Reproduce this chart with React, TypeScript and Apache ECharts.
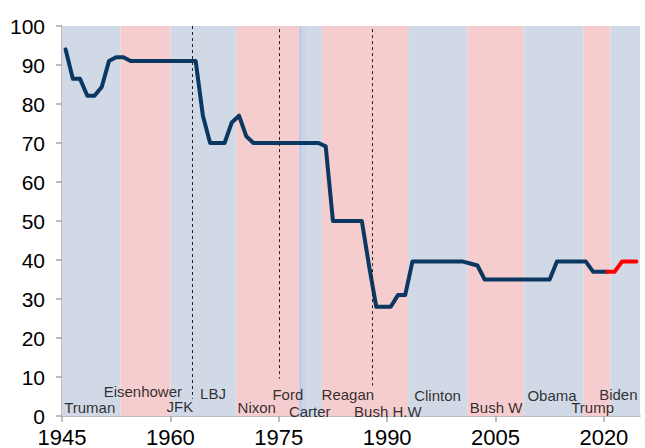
import React, { useEffect, useRef } from 'react';
import * as echarts from 'echarts';

const START_YEAR = 1945;

// Top marginal rate, one value per year (drawn at the middle of each year's slot)
const rateYears = [
  1945, 1946, 1947, 1948, 1949, 1950, 1951, 1952, 1953, 1954,
  1955, 1956, 1957, 1958, 1959, 1960, 1961, 1962, 1963, 1964,
  1965, 1966, 1967, 1968, 1969, 1970, 1971, 1972, 1973, 1974,
  1975, 1976, 1977, 1978, 1979, 1980, 1981, 1982, 1983, 1984,
  1985, 1986, 1987, 1988, 1989, 1990, 1991, 1992, 1993, 1994,
  1995, 1996, 1997, 1998, 1999, 2000, 2001, 2002, 2003, 2004,
  2005, 2006, 2007, 2008, 2009, 2010, 2011, 2012, 2013, 2014,
  2015, 2016, 2017, 2018, 2019, 2020,
];
const rateValues = [
  94, 86.45, 86.45, 82.13, 82.13, 84.36, 91, 92, 92, 91,
  91, 91, 91, 91, 91, 91, 91, 91, 91, 77,
  70, 70, 70, 75.25, 77, 71.75, 70, 70, 70, 70,
  70, 70, 70, 70, 70, 70, 69.13, 50, 50, 50,
  50, 50, 38.5, 28, 28, 28, 31, 31, 39.6, 39.6,
  39.6, 39.6, 39.6, 39.6, 39.6, 39.6, 39.1, 38.6, 35, 35,
  35, 35, 35, 35, 35, 35, 35, 35, 39.6, 39.6,
  39.6, 39.6, 39.6, 37, 37, 37,
];
const projYears = [2020, 2021, 2022, 2023, 2024];
const projValues = [37, 37, 39.6, 39.6, 39.6];

// Administration shading (edges in years)
const bandStarts = [1945, 1953.1, 1960, 1969.1, 1977.9, 1981, 1992.9, 2001.1, 2008.9, 2017.2, 2020.9];
const bandEnds = [1953.1, 1960, 1969.1, 1977.9, 1981, 1992.9, 2001.1, 2008.9, 2017.2, 2020.9, 2025];
const bandParty = ['D', 'R', 'D', 'R', 'D', 'R', 'D', 'R', 'D', 'R', 'D'];

// Mid-term transitions (dashed lines)
const transitionYears = [1963, 1975, 1987.9];
const transitionTop = [100, 99.2, 99.2];
const transitionBottom = [4.4, 9.6, 7.8];

// President names and where their labels sit
const presidents = ['Truman', 'Eisenhower', 'JFK', 'LBJ', 'Nixon', 'Ford', 'Carter', 'Reagan', 'Bush H.W', 'Clinton', 'Bush W', 'Obama', 'Trump', 'Biden'];
const labelYears = [1948.84, 1956.19, 1961.32, 1965.9, 1971.96, 1976.26, 1979.29, 1984.56, 1990.1, 1996.97, 2005.08, 2012.82, 2018.44, 2022.0];
const labelLevels = [2.1, 6.2, 2.4, 5.7, 2.1, 5.5, 1.1, 5.5, 1.2, 5.3, 2.1, 5.3, 2.3, 5.6];

const xTicks = [0, 15, 30, 45, 60, 75];

const BLUE_BAND = '#D2D9E6';
const RED_BAND = '#F5CDCF';
const NAVY = '#0B3862';
const FONT = 'Liberation Sans, Arial, sans-serif';

export default function App() {
  const ref = useRef<HTMLDivElement>(null);

  useEffect(() => {
    if (!ref.current) return;
    const chart = echarts.init(ref.current, null, { renderer: 'svg' });

    const toPos = (y: number) => y - START_YEAR;
    const mid = (y: number) => y - START_YEAR + 0.5;

    const bands: any[] = bandStarts.map((s, i) => [
      { xAxis: toPos(s), itemStyle: { color: bandParty[i] === 'D' ? BLUE_BAND : RED_BAND } },
      { xAxis: toPos(bandEnds[i]) },
    ]);
    // thin lighter strip at the start of the Carter band
    bands.push([{ xAxis: toPos(1977.87), itemStyle: { color: '#B3C5E2' } }, { xAxis: toPos(1978.1) }]);
    bands.push([{ xAxis: toPos(1978.1), itemStyle: { color: '#C9D6EA' } }, { xAxis: toPos(1978.85) }]);

    const option: any = {
      animation: false,
      grid: { left: 62, right: 5, top: 26, bottom: 32, containLabel: false },
      xAxis: {
        type: 'value',
        min: 0,
        max: 80,
        interval: 15,
        splitLine: { show: false },
        axisLine: { show: true, lineStyle: { color: '#A6A6A6', width: 1.5 } },
        axisTick: { show: true, length: 6, lineStyle: { color: '#A6A6A6', width: 1.5 }, customValues: xTicks },
        axisLabel: {
          customValues: xTicks,
          formatter: (v: number) => String(START_YEAR + v),
          fontSize: 22,
          fontFamily: FONT,
          color: '#000',
          margin: 10,
        },
      },
      yAxis: {
        type: 'value',
        min: 0,
        max: 100,
        interval: 10,
        splitLine: { show: false },
        axisLine: { show: true, lineStyle: { color: '#A6A6A6', width: 1.5 } },
        axisTick: { show: true, length: 6, lineStyle: { color: '#A6A6A6', width: 1.5 } },
        axisLabel: { fontSize: 21, fontFamily: FONT, color: '#000', margin: 17 },
      },
      series: [
        {
          type: 'line',
          data: [],
          z: 0,
          silent: true,
          markArea: { silent: true, data: bands },
        },
        {
          type: 'line',
          data: [],
          z: 1,
          silent: true,
          markLine: {
            silent: true,
            symbol: ['none', 'none'],
            label: { show: false },
            lineStyle: { type: [3, 3], color: '#222', width: 1 },
            data: transitionYears.map((y, i) => [
              { coord: [toPos(y), transitionTop[i]] },
              { coord: [toPos(y), transitionBottom[i]] },
            ]),
          },
        },
        {
          type: 'line',
          z: 3,
          data: rateYears.map((y, i) => [mid(y), rateValues[i]]),
          showSymbol: false,
          symbol: 'none',
          lineStyle: { color: NAVY, width: 4, join: 'round', cap: 'round' },
          silent: true,
        },
        {
          type: 'line',
          z: 3,
          data: projYears.map((y, i) => [mid(y), projValues[i]]),
          showSymbol: false,
          symbol: 'none',
          lineStyle: { color: '#FF0000', width: 4, join: 'round', cap: 'round' },
          silent: true,
        },
        {
          type: 'scatter',
          z: 4,
          silent: true,
          symbolSize: 1,
          itemStyle: { color: 'rgba(0,0,0,0)' },
          data: presidents.map((n, i) => ({ name: n, value: [toPos(labelYears[i]), labelLevels[i]] })),
          label: {
            show: true,
            position: 'inside',
            formatter: (p: any) => p.name,
            fontSize: 15,
            lineHeight: 15,
            fontFamily: FONT,
            color: '#000',
          },
        },
      ],
    };

    chart.setOption(option);
    return () => chart.dispose();
  }, []);

  return <div ref={ref} style={{ position: 'absolute', left: 0, top: 0, width: 645, height: 448 }} />;
}
